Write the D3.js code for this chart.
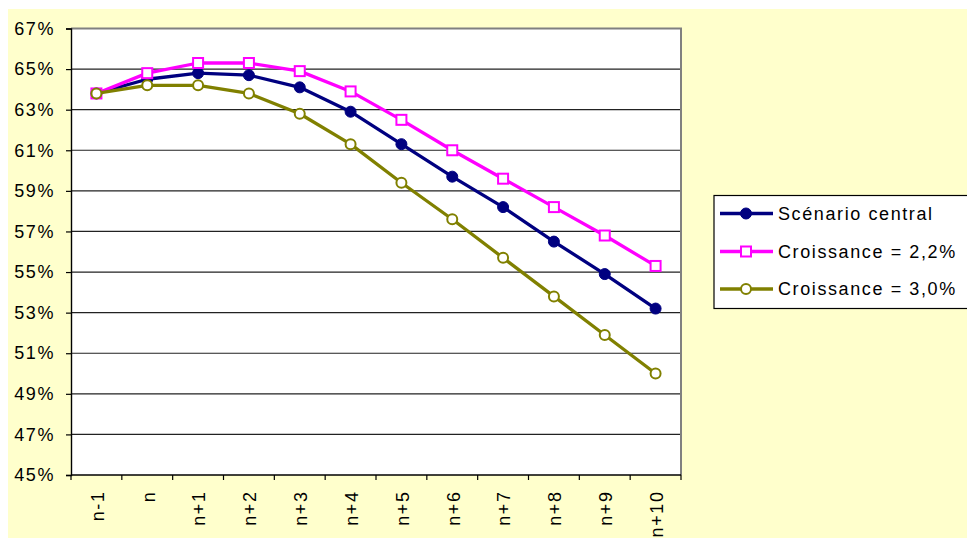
<!DOCTYPE html>
<html>
<head>
<meta charset="utf-8">
<script src="https://cdn.jsdelivr.net/npm/d3@7/dist/d3.min.js"></script>
<style>
  html, body { margin: 0; padding: 0; background: #ffffff; }
  svg text { font-family: "Liberation Sans", Arial, sans-serif; fill: #000; }
</style>
</head>
<body>
<svg id="chart" width="967" height="539"></svg>
<script>
// Categories (years relative to n)
const categories = ["n-1", "n", "n+1", "n+2", "n+3", "n+4", "n+5", "n+6", "n+7", "n+8", "n+9", "n+10"];

// Series values, in %
const central = [63.8, 64.5, 64.8, 64.7, 64.1, 62.9, 61.3, 59.7, 58.2, 56.5, 54.9, 53.2];
const croissance22 = [63.8, 64.8, 65.3, 65.3, 64.9, 63.9, 62.5, 61.0, 59.6, 58.2, 56.8, 55.3];
const croissance30 = [63.8, 64.2, 64.2, 63.8, 62.8, 61.3, 59.4, 57.6, 55.7, 53.8, 51.9, 50.0];

// Y axis ticks
const yTicks = [45, 47, 49, 51, 53, 55, 57, 59, 61, 63, 65, 67];

const seriesNames = ["Scénario central", "Croissance = 2,2%", "Croissance = 3,0%"];

const series = [
  { name: seriesNames[0], values: central, color: "#000080", marker: "dot" },
  { name: seriesNames[1], values: croissance22, color: "#FF00FF", marker: "square" },
  { name: seriesNames[2], values: croissance30, color: "#808000", marker: "ring" }
];

const FONT_SIZE = "18px";
const LETTER_SPACING = "1.6px";

const svg = d3.select("#chart");
const plot = { left: 71, right: 681, top: 28.5, bottom: 475 };

// Chart background
svg.append("rect")
  .attr("x", 8).attr("y", 9)
  .attr("width", 959).attr("height", 529)
  .attr("fill", "#FFFFCC");

// Plot area
svg.append("rect")
  .attr("x", plot.left).attr("y", plot.top)
  .attr("width", plot.right - plot.left).attr("height", plot.bottom - plot.top)
  .attr("fill", "#ffffff");

const x = d3.scaleBand().domain(categories).range([plot.left, plot.right]).padding(0);
const y = d3.scaleLinear().domain([45, 67]).range([plot.bottom, plot.top]);
const cx = c => x(c) + x.bandwidth() / 2;

// Horizontal gridlines
svg.append("g")
  .selectAll("line")
  .data(yTicks.filter(t => t !== 45 && t !== 67))
  .join("line")
  .attr("x1", plot.left).attr("x2", plot.right)
  .attr("y1", d => y(d)).attr("y2", d => y(d))
  .attr("stroke", "#222")
  .attr("stroke-width", 1.2);

// Top and right border of the plot area
svg.append("path")
  .attr("d", `M${plot.left},${plot.top}H${plot.right}V${plot.bottom}`)
  .attr("fill", "none")
  .attr("stroke", "#808080")
  .attr("stroke-width", 2);

// Y axis
const yAxis = d3.axisLeft(y)
  .tickValues(yTicks)
  .tickFormat(d => d + "%")
  .tickSize(5)
  .tickPadding(11);
const gy = svg.append("g")
  .attr("transform", `translate(${plot.left},0)`)
  .call(yAxis);
gy.select(".domain").attr("stroke", "#000").attr("stroke-width", 1.4);
gy.selectAll(".tick line").attr("stroke", "#000").attr("stroke-width", 1.2);
gy.selectAll(".tick text")
  .style("font-size", FONT_SIZE)
  .style("letter-spacing", LETTER_SPACING)
  .attr("font-family", null);

// X axis: baseline, ticks at category boundaries, rotated labels
svg.append("line")
  .attr("x1", plot.left).attr("x2", plot.right)
  .attr("y1", plot.bottom).attr("y2", plot.bottom)
  .attr("stroke", "#000").attr("stroke-width", 1.4);

const boundaries = categories.map(c => x(c)).concat([x(categories[categories.length - 1]) + x.bandwidth()]);
svg.append("g")
  .selectAll("line")
  .data(boundaries)
  .join("line")
  .attr("x1", d => d).attr("x2", d => d)
  .attr("y1", plot.bottom).attr("y2", plot.bottom + 5)
  .attr("stroke", "#000").attr("stroke-width", 1.2);

svg.append("g")
  .selectAll("text")
  .data(categories)
  .join("text")
  .attr("transform", d => `translate(${cx(d) + 1},${plot.bottom + 15.5}) rotate(-90)`)
  .attr("text-anchor", "end")
  .attr("dy", "0.35em")
  .style("font-size", FONT_SIZE)
  .style("letter-spacing", LETTER_SPACING)
  .text(d => d);

// Series lines and markers
const line = d3.line()
  .x((d, i) => cx(categories[i]))
  .y(d => y(d));

function drawMarker(g, type, color) {
  if (type === "dot") {
    g.append("circle").attr("r", 5.5).attr("fill", color).attr("stroke", color).attr("stroke-width", 1);
  } else if (type === "square") {
    g.append("rect").attr("x", -5).attr("y", -5).attr("width", 10).attr("height", 10)
      .attr("fill", "#ffffff").attr("stroke", color).attr("stroke-width", 2);
  } else {
    g.append("circle").attr("r", 5).attr("fill", "#ffffff").attr("stroke", color).attr("stroke-width", 2);
  }
}

series.forEach(s => {
  const g = svg.append("g");
  g.append("path")
    .datum(s.values)
    .attr("d", line)
    .attr("fill", "none")
    .attr("stroke", s.color)
    .attr("stroke-width", 3.3)
    .attr("stroke-linejoin", "round");
  s.values.forEach((v, i) => {
    const m = g.append("g").attr("transform", `translate(${cx(categories[i])},${y(v)})`);
    drawMarker(m, s.marker, s.color);
  });
});

// Legend
const legend = svg.append("g");
legend.append("rect")
  .attr("x", 714).attr("y", 195.5)
  .attr("width", 270).attr("height", 113)
  .attr("fill", "#ffffff")
  .attr("stroke", "#000")
  .attr("stroke-width", 1.2);

const legendRows = [213.5, 251.5, 289];
series.forEach((s, i) => {
  const ly = legendRows[i];
  legend.append("line")
    .attr("x1", 720).attr("x2", 773)
    .attr("y1", ly).attr("y2", ly)
    .attr("stroke", s.color).attr("stroke-width", 3.3);
  const m = legend.append("g").attr("transform", `translate(746,${ly})`);
  drawMarker(m, s.marker, s.color);
  legend.append("text")
    .attr("x", 778).attr("y", ly)
    .attr("dy", "0.35em")
    .style("font-size", FONT_SIZE)
    .style("letter-spacing", LETTER_SPACING)
    .text(s.name);
});
</script>
</body>
</html>
